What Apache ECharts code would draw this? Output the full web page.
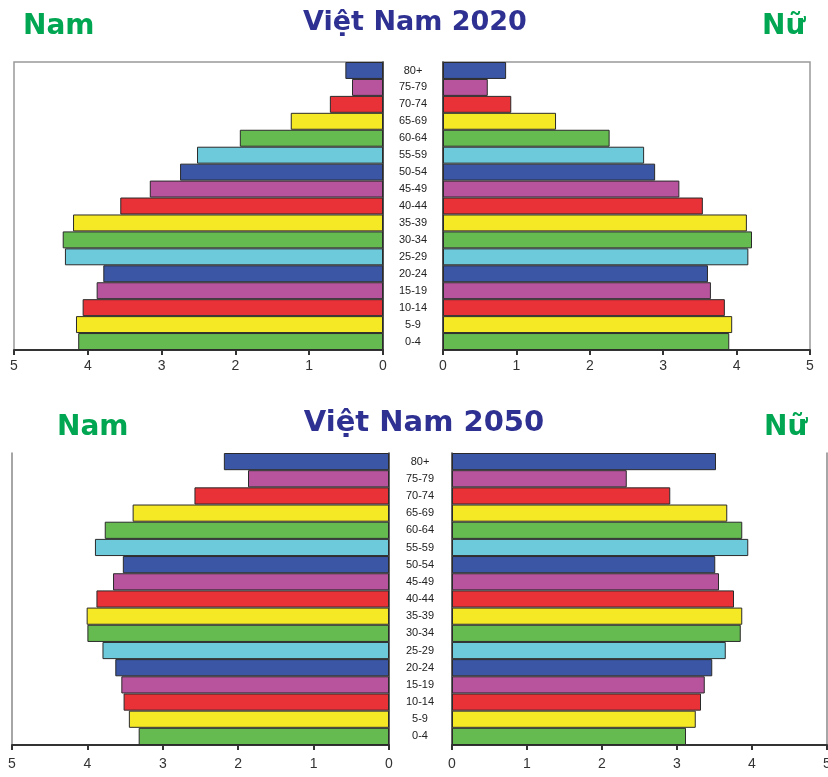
<!DOCTYPE html>
<html><head><meta charset="utf-8">
<script src="https://cdn.jsdelivr.net/npm/echarts@6/dist/echarts.min.js"></script>
<style>html,body{margin:0;padding:0;background:#fff}#c{width:828px;height:777px}</style>
</head><body><div id="c"></div>
<script>
const ageGroups = ['0-4','5-9','10-14','15-19','20-24','25-29','30-34','35-39','40-44','45-49','50-54','55-59','60-64','65-69','70-74','75-79','80+'];
const male2020   = [4.13,4.16,4.07,3.88,3.79,4.31,4.34,4.20,3.56,3.16,2.75,2.52,1.94,1.25,0.72,0.42,0.51];
const female2020 = [3.90,3.94,3.84,3.65,3.61,4.16,4.21,4.14,3.54,3.22,2.89,2.74,2.27,1.54,0.93,0.61,0.86];
const male2050   = [3.32,3.45,3.52,3.55,3.63,3.80,4.00,4.01,3.88,3.66,3.53,3.90,3.77,3.40,2.58,1.87,2.19];
const female2050 = [3.12,3.25,3.32,3.37,3.47,3.65,3.85,3.87,3.76,3.56,3.51,3.95,3.87,3.67,2.91,2.33,3.52];
const xTicks = [0,1,2,3,4,5];
const titles = ['Việt Nam 2020','Việt Nam 2050'];
const sideLabels = ['Nam','Nữ'];

const palette = ['#66bb50','#f5e926','#e93237','#b8549e','#3a56a5','#6dcadb'];
const FONT = 'Liberation Sans, Arial, sans-serif';
const TFONT = 'DejaVu Sans, sans-serif';

function barData(vals){
  return vals.map((v,i)=>({value:v,itemStyle:{color:palette[i%6]}}));
}

const gb = {outerBoundsMode:'none', containLabel:false};
const grids = [
  Object.assign({left:14, right:445, top:62, height:288, show:true, borderColor:'#999', borderWidth:1.5}, gb),
  Object.assign({left:443, right:18, top:62, height:288, show:true, borderColor:'#999', borderWidth:1.5}, gb),
  Object.assign({left:12, right:439, top:453, height:292}, gb),
  Object.assign({left:452, right:1, top:453, height:292}, gb)
];

function xAx(gi, inverse, margin){
  return {type:'value', gridIndex:gi, min:xTicks[0], max:xTicks[xTicks.length-1], interval:1, inverse:inverse,
    axisLine:{show:true,lineStyle:{color:'#333',width:2}},
    axisTick:{show:true,length:5,lineStyle:{color:'#333',width:2}},
    axisLabel:{show:true,margin:margin,fontSize:14,color:'#333',fontFamily:FONT,
      formatter:(v)=>xTicks.includes(v)?String(v):''},
    splitLine:{show:false}};
}
function yAx(gi, pos, showLabel, margin){
  return {type:'category', gridIndex:gi, data:ageGroups, position:pos,
    axisLine:{show:true,onZero:false,lineStyle:{color:'#333',width:1.5}},
    axisTick:{show:false},
    axisLabel:{show:showLabel,margin:margin,align:'center',fontSize:11,color:'#222',fontFamily:FONT},
    splitLine:{show:false}};
}
function frameAx(gi, pos){
  return {type:'category', gridIndex:gi, data:ageGroups, position:pos,
    axisLine:{show:true,onZero:false,lineStyle:{color:'#888',width:1.5}},
    axisTick:{show:false}, axisLabel:{show:false}, splitLine:{show:false}};
}

const xAxis = [xAx(0,true,9), xAx(1,false,9), xAx(2,true,12), xAx(3,false,12)];
const yAxis = [yAx(0,'right',true,30), yAx(1,'left',false,0), yAx(2,'right',true,31), yAx(3,'left',false,0),
               frameAx(2,'left'), frameAx(3,'right')];

function bar(gi, vals){
  return {type:'bar', xAxisIndex:gi, yAxisIndex:gi, data:barData(vals), barCategoryGap:'0%',
    itemStyle:{borderColor:'#2a2a2a',borderWidth:1}, silent:true, animation:false};
}

const titleStyleMain = {fontSize:27,fontWeight:'bold',color:'#2e3192',fontFamily:TFONT};
const titleStyleMain2 = {fontSize:29,fontWeight:'bold',color:'#2e3192',fontFamily:TFONT};
const titleStyleSide = {fontSize:28,fontWeight:'bold',color:'#00a651',fontFamily:TFONT};

const option = {
  animation:false,
  backgroundColor:'#fff',
  title:[
    {text:titles[0], left:410, top:4, textAlign:'center', textStyle:titleStyleMain},
    {text:sideLabels[0], left:18, top:8, textStyle:titleStyleSide},
    {text:sideLabels[1], left:757, top:8, textStyle:titleStyleSide},
    {text:titles[1], left:419, top:404, textAlign:'center', textStyle:titleStyleMain2},
    {text:sideLabels[0], left:52, top:409, textStyle:titleStyleSide},
    {text:sideLabels[1], left:759, top:409, textStyle:titleStyleSide}
  ],
  grid:grids,
  xAxis:xAxis,
  yAxis:yAxis,
  series:[bar(0,male2020), bar(1,female2020), bar(2,male2050), bar(3,female2050)]
};

const chart = echarts.init(document.getElementById('c'),null,{renderer:'canvas'});
chart.setOption(option);
</script>
</body></html>
